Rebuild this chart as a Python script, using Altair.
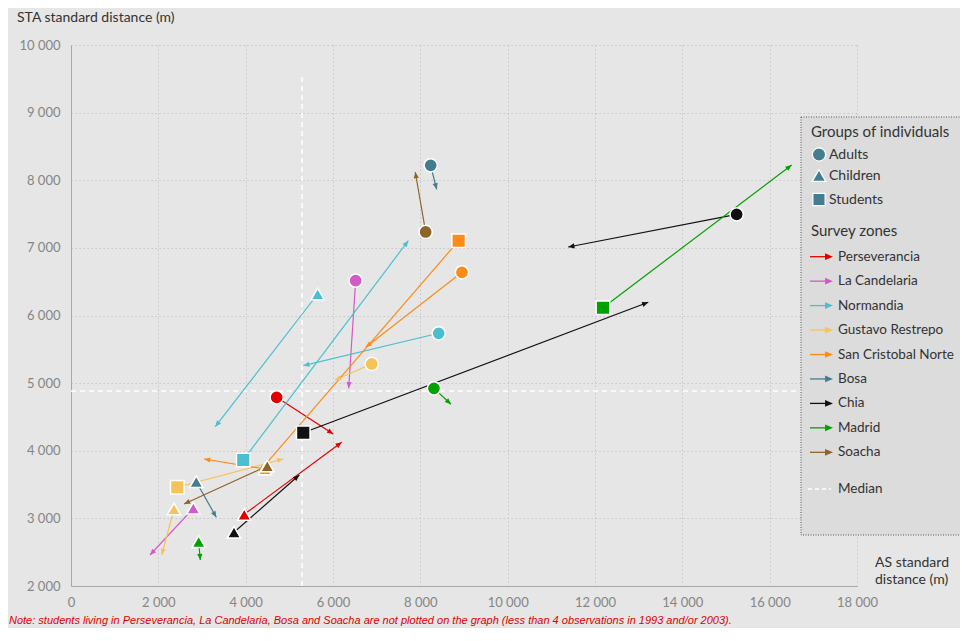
import altair as alt
import pandas as pd

# ---------------- data ----------------
ZONES = ["Perseverancia", "La Candelaria", "Normandia", "Gustavo Restrepo",
         "San Cristobal Norte", "Bosa", "Chia", "Madrid", "Soacha"]
ZONE_COLORS = ["#e00000", "#d35ac6", "#4bbfd1", "#f7c358",
               "#fd8b17", "#437d8f", "#111111", "#00a100", "#8e642a"]
GROUPS = ["Adults", "Children", "Students"]
GROUP_SHAPES = ["circle", "triangle-up", "square"]
GROUP_SIZES = [175, 185, 150]

obs_zone = ["Perseverancia", "Perseverancia",
            "La Candelaria", "La Candelaria",
            "Normandia", "Normandia", "Normandia",
            "Gustavo Restrepo", "Gustavo Restrepo", "Gustavo Restrepo",
            "San Cristobal Norte", "San Cristobal Norte", "San Cristobal Norte",
            "Bosa", "Bosa",
            "Chia", "Chia", "Chia",
            "Madrid", "Madrid", "Madrid",
            "Soacha", "Soacha"]
obs_group = ["Adults", "Children",
             "Adults", "Children",
             "Adults", "Children", "Students",
             "Adults", "Children", "Students",
             "Adults", "Children", "Students",
             "Adults", "Children",
             "Adults", "Children", "Students",
             "Adults", "Children", "Students",
             "Adults", "Children"]
as_start = [4710, 3968, 6519, 2801, 8420, 5649, 3945, 6886, 2359, 2434,
            8954, 4442, 8878, 8237, 2869, 15244, 3733, 5319, 8312, 2924,
            12182, 8122, 4495]
sta_start = [4790, 3060, 6515, 3149, 5737, 6318, 3863, 5283, 3139, 3460,
             6639, 3730, 7106, 8221, 3542, 7496, 2794, 4267, 4923, 2655,
             6115, 7235, 3774]
as_end = [6006, 6199, 6359, 1809, 5319, 3304, 7724, 6045, 2077, 4861,
          6748, 3046, 4312, 8374, 3327, 11388, 5228, 13220, 8702, 2961,
          16503, 7884, 2588]
sta_end = [4248, 4125, 4923, 2458, 5258, 4356, 7106, 5046, 2458, 3878,
           5530, 3878, 3690, 7866, 3016, 7013, 3641, 6195, 4687, 2384,
           8225, 8122, 3213]

MEDIAN_AS = 5290
MEDIAN_STA = 4884
MEDIAN_TOP = 9556

X_TICKS = list(range(0, 18001, 2000))
Y_TICKS = list(range(2000, 10001, 1000))

Y_TITLE = "STA standard distance (m)"
X_TITLE_1 = "AS standard"
X_TITLE_2 = "distance (m)"
LEGEND_GROUPS_TITLE = "Groups of individuals"
LEGEND_ZONES_TITLE = "Survey zones"
MEDIAN_LABEL = "Median"
NOTE = ("Note: students living in Perseverancia, La Candelaria, Bosa and Soacha are not plotted "
        "on the graph (less than 4 observations in 1993 and/or 2003).")

# ---------------- layout / style ----------------
W, H = 786, 541
XMIN, XMAX = 0, 18000
YMIN, YMAX = 2000, 10000
KX = W / (XMAX - XMIN)
KY = H / (YMAX - YMIN)
FONT = "Lato"
ARROW = "M0,0L-0.55,1.3L0.55,1.3Z"
LEG_COLOR = "#437d8f"

df = pd.DataFrame({
    "zone": obs_zone, "group": obs_group,
    "as_start": as_start, "sta_start": sta_start,
    "as_end": as_end, "sta_end": sta_end,
})

label_expr = "replace(format(datum.value, ','), ',', ' ')"
xaxis = alt.Axis(values=X_TICKS, title=None, grid=True, gridColor="#c6c6c6",
                 gridDash=[1.5, 2.5], gridWidth=1, ticks=False, tickSize=0,
                 domainColor="#a8a8a8", domainWidth=1, labelColor="#858585",
                 labelFont=FONT, labelFontSize=13, labelPadding=10,
                 labelExpr=label_expr, labelFlush=False, labelOverlap=False)
yaxis = alt.Axis(values=Y_TICKS, title=None, grid=True, gridColor="#c6c6c6",
                 gridDash=[1.5, 2.5], gridWidth=1, ticks=False, tickSize=0,
                 domainColor="#a8a8a8", domainWidth=1, labelColor="#858585",
                 labelFont=FONT, labelFontSize=13, labelPadding=11,
                 labelExpr=label_expr, labelFlush=False, labelOverlap=False)
xs = alt.Scale(domain=[XMIN, XMAX], nice=False, zero=False)
ys = alt.Scale(domain=[YMIN, YMAX], nice=False, zero=False)
color = alt.Color("zone:N", scale=alt.Scale(domain=ZONES, range=ZONE_COLORS), legend=None)

base = alt.Chart(df)

lines = base.mark_rule(strokeWidth=1.2).encode(
    x=alt.X("as_start:Q", scale=xs, axis=xaxis),
    y=alt.Y("sta_start:Q", scale=ys, axis=yaxis),
    x2="as_end:Q", y2="sta_end:Q", color=color,
)

heads = base.transform_calculate(
    ang=f"(atan2((datum.as_end - datum.as_start) * {KX}, (datum.sta_end - datum.sta_start) * {KY}) * 180 / PI + 360) % 360"
).mark_point(shape=ARROW, filled=True, size=90, opacity=1, strokeWidth=0).encode(
    x=alt.X("as_end:Q", scale=xs), y=alt.Y("sta_end:Q", scale=ys),
    angle=alt.Angle("ang:Q", scale=None), color=color,
)

markers = base.mark_point(filled=True, opacity=1, stroke="white", strokeWidth=1.5).encode(
    x=alt.X("as_start:Q", scale=xs), y=alt.Y("sta_start:Q", scale=ys), color=color,
    shape=alt.Shape("group:N", scale=alt.Scale(domain=GROUPS, range=GROUP_SHAPES), legend=None),
    size=alt.Size("group:O", scale=alt.Scale(domain=GROUPS, range=GROUP_SIZES), legend=None),
)

med_df = pd.DataFrame({"as_med": [MEDIAN_AS], "sta_med": [MEDIAN_STA]})
vmed = alt.Chart(med_df).mark_rule(color="white", strokeWidth=1.5, strokeDash=[5, 4]).encode(
    x=alt.X("as_med:Q", scale=xs), y=alt.datum(YMIN), y2=alt.datum(MEDIAN_TOP))
hmed = alt.Chart(med_df).mark_rule(color="white", strokeWidth=1.5, strokeDash=[5, 4]).encode(
    y=alt.Y("sta_med:Q", scale=ys), x=alt.datum(XMIN), x2=alt.datum(XMAX))


def one(label):
    return alt.Chart(pd.DataFrame({"t": [label]}))


def text_at(label, px, py, size=14, color_="#333333", **kw):
    return one(label).mark_text(align="left", baseline="middle", font=FONT,
                                fontSize=size, color=color_, **kw).encode(
        text="t:N", x=alt.value(px), y=alt.value(py))


layers = [vmed, hmed, lines, heads, markers]

# legend box
layers.append(one("box").mark_rect(fill="#dcdcdc", stroke="#555555", strokeDash=[1, 1.5],
                                   strokeWidth=1).encode(
    x=alt.value(730), x2=alt.value(905), y=alt.value(72), y2=alt.value(490)))
layers.append(text_at(LEGEND_GROUPS_TITLE, 740, 87, size=15))
for i, (g, shp, sz) in enumerate(zip(GROUPS, GROUP_SHAPES, GROUP_SIZES)):
    gy = [109.5, 130.5, 154.5][i]
    layers.append(one(g).mark_point(shape=shp, filled=True, opacity=1, size=sz,
                                    color=LEG_COLOR, stroke="white", strokeWidth=1.2).encode(
        x=alt.value(748), y=alt.value(gy)))
    layers.append(text_at(g, 758, gy, size=14))
layers.append(text_at(LEGEND_ZONES_TITLE, 740, 186, size=15))
for i, (z, c) in enumerate(zip(ZONES, ZONE_COLORS)):
    zy = 211.7 + i * 24.45
    layers.append(one(z).mark_rule(color=c, strokeWidth=1.3).encode(
        x=alt.value(739), x2=alt.value(757), y=alt.value(zy)))
    layers.append(one(z).mark_point(shape=ARROW, filled=True, opacity=1, size=150,
                                    color=c, strokeWidth=0, angle=90).encode(
        x=alt.value(762), y=alt.value(zy)))
    layers.append(text_at(z, 767, zy, size=13.5))
layers.append(one(MEDIAN_LABEL).mark_rule(color="white", strokeWidth=1.5, strokeDash=[4, 3]).encode(
    x=alt.value(737), x2=alt.value(760), y=alt.value(444)))
layers.append(text_at(MEDIAN_LABEL, 767, 444, size=13.5))

# titles and note
layers.append(text_at(Y_TITLE, -54, -27, size=14))
layers.append(text_at(X_TITLE_1, 804, 518, size=14))
layers.append(text_at(X_TITLE_2, 804, 535, size=14))
layers.append(one(NOTE).mark_text(align="left", baseline="middle", font="Liberation Sans",
                                  fontSize=11, fontStyle="italic", color="#e00000").encode(
    text="t:N", x=alt.value(-62), y=alt.value(576)))

chart = alt.layer(*layers).properties(
    width=W, height=H, background="#e6e6e6",
    padding={"left": 63, "top": 37, "right": 103, "bottom": 42},
    autosize=alt.AutoSizeParams(type="none"),
).configure_view(stroke=None)

chart.save("out.html", embed_options={"renderer": "svg", "actions": False})
